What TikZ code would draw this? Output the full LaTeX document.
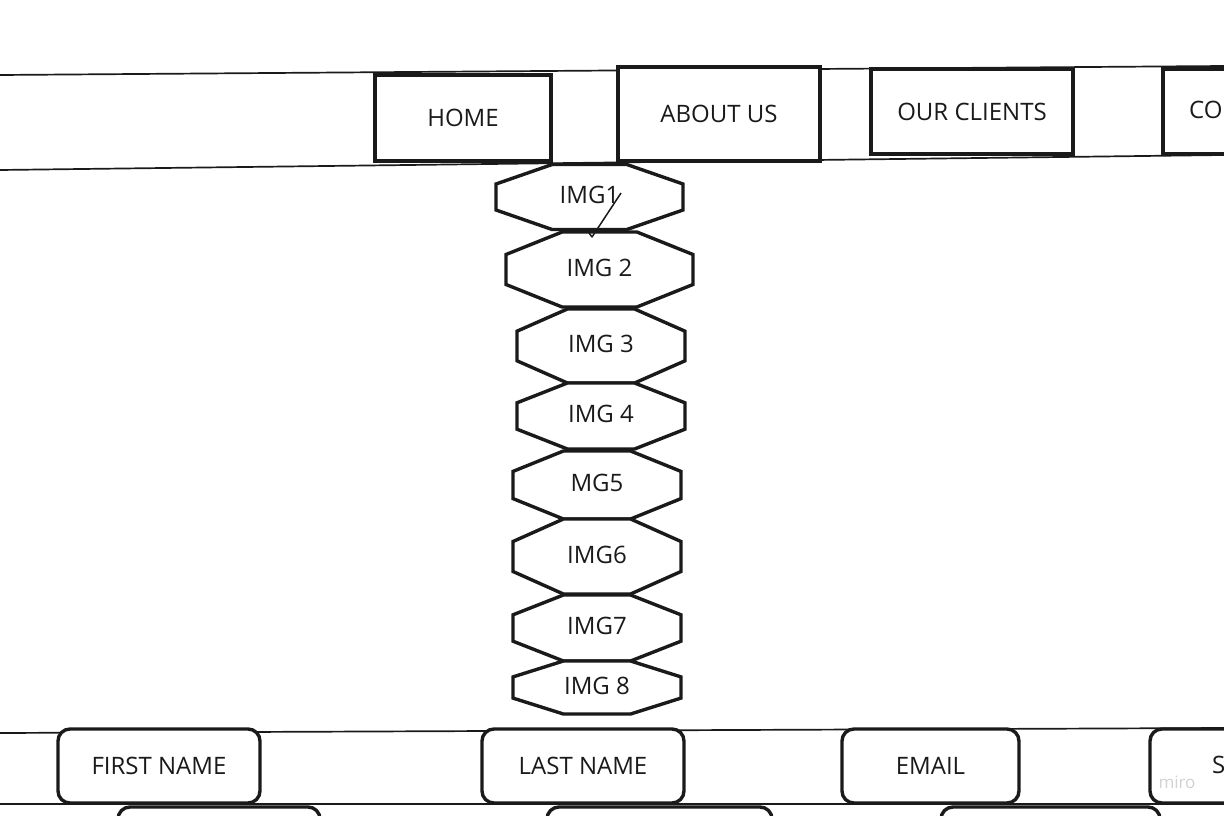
\documentclass[tikz,border=0pt]{standalone}
\usepackage{fontspec}
\setmainfont{Open Sans}
\usetikzlibrary{positioning,calc}
\definecolor{ink}{HTML}{1A1A1A}

\begin{document}
\begin{tikzpicture}[
  x=1pt, y=-1pt,
  band/.style={draw=ink, line width=1.7pt},
  lbl/.style={font=\fontsize{24}{28}\selectfont, text=ink, inner sep=0pt},
  navbox/.style={draw=ink, fill=white, line width=3.4pt, inner sep=0pt,
    font=\fontsize{24}{28}\selectfont, text=ink},
  formbox/.style={draw=ink, fill=white, line width=3.4pt, rounded corners=12pt,
    inner sep=0pt, minimum height=74pt, font=\fontsize{24}{28}\selectfont, text=ink},
  octline/.style={draw=ink, fill=white, line width=3.4pt, line join=miter}
]
  \useasboundingbox (0,0) rectangle (1224,816);
  \clip (0,0) rectangle (1224,816);

  % --- nav bar
  \draw[band] (0,75) -- (1224,66);
  \draw[band] (0,170) -- (1224,155);
  \node[navbox, minimum width=176pt, minimum height=86pt] (home) at (463,118) {HOME};
  \node[navbox, minimum width=202pt, minimum height=94pt] (about) at (719,114) {ABOUT US};
  \node[navbox, minimum width=202pt, minimum height=85pt] (clients) at (972,111.5) {OUR CLIENTS};
  \node[navbox, minimum width=202pt, minimum height=85pt] (contact) at (1264,111.5) {};
  \node[lbl, anchor=west] (contacttxt) at (1189,110) {CO};

  % --- image column
  \foreach \nm/\cx/\cy/\w/\h/\txt in {
      img1/589.5/197/187/65/IMG1,
      img2/599.5/269.5/187/75/IMG 2,
      img3/601/346/168/74/IMG 3,
      img4/601/416/168/66/IMG 4,
      img5/597/485/168/68/MG5,
      img6/597/556.5/168/75/IMG6,
      img7/597/628/168/66/IMG7,
      img8/597/687.5/168/53/IMG 8}{
    \draw[octline] ({\cx-\w/2},{\cy-0.2*\h}) -- ({\cx-0.2*\w},{\cy-\h/2})
      -- ({\cx+0.2*\w},{\cy-\h/2}) -- ({\cx+\w/2},{\cy-0.2*\h})
      -- ({\cx+\w/2},{\cy+0.2*\h}) -- ({\cx+0.2*\w},{\cy+\h/2})
      -- ({\cx-0.2*\w},{\cy+\h/2}) -- ({\cx-\w/2},{\cy+0.2*\h}) -- cycle;
    \node[lbl] (\nm) at (\cx,\cy-2) {\txt};
  }

  % pen stroke over IMG1
  \coordinate (penA) at (621,193);
  \coordinate (penB) at (592,237);
  \coordinate (penC) at (589,233);
  \draw[ink, line width=1.5pt, line join=round] (penA) -- (penB) -- (penC);

  % --- form row
  \draw[band] (0,733) -- (1224,728);
  \draw[band] (0,804) -- (1224,804);
  \node[formbox, minimum width=202pt] (first) at (159,766) {FIRST NAME};
  \node[formbox, minimum width=202pt] (last) at (583,766) {LAST NAME};
  \node[formbox, minimum width=177pt] (email) at (930.5,766) {EMAIL};
  \node[formbox, minimum width=202pt] (submit) at (1251,766) {};
  \node[lbl, anchor=west] (submittxt) at (1212,765) {S};
  \node[font=\fontsize{17}{20}\selectfont, text=gray!35, inner sep=0pt] (miro) at (1177,782) {miro};

  % second form row (cut off)
  \node[formbox, minimum width=202pt] (row2a) at (219,844) {};
  \node[formbox, minimum width=225pt] (row2b) at (659.5,844) {};
  \node[formbox, minimum width=219pt] (row2c) at (1050.5,844) {};
\end{tikzpicture}
\end{document}
